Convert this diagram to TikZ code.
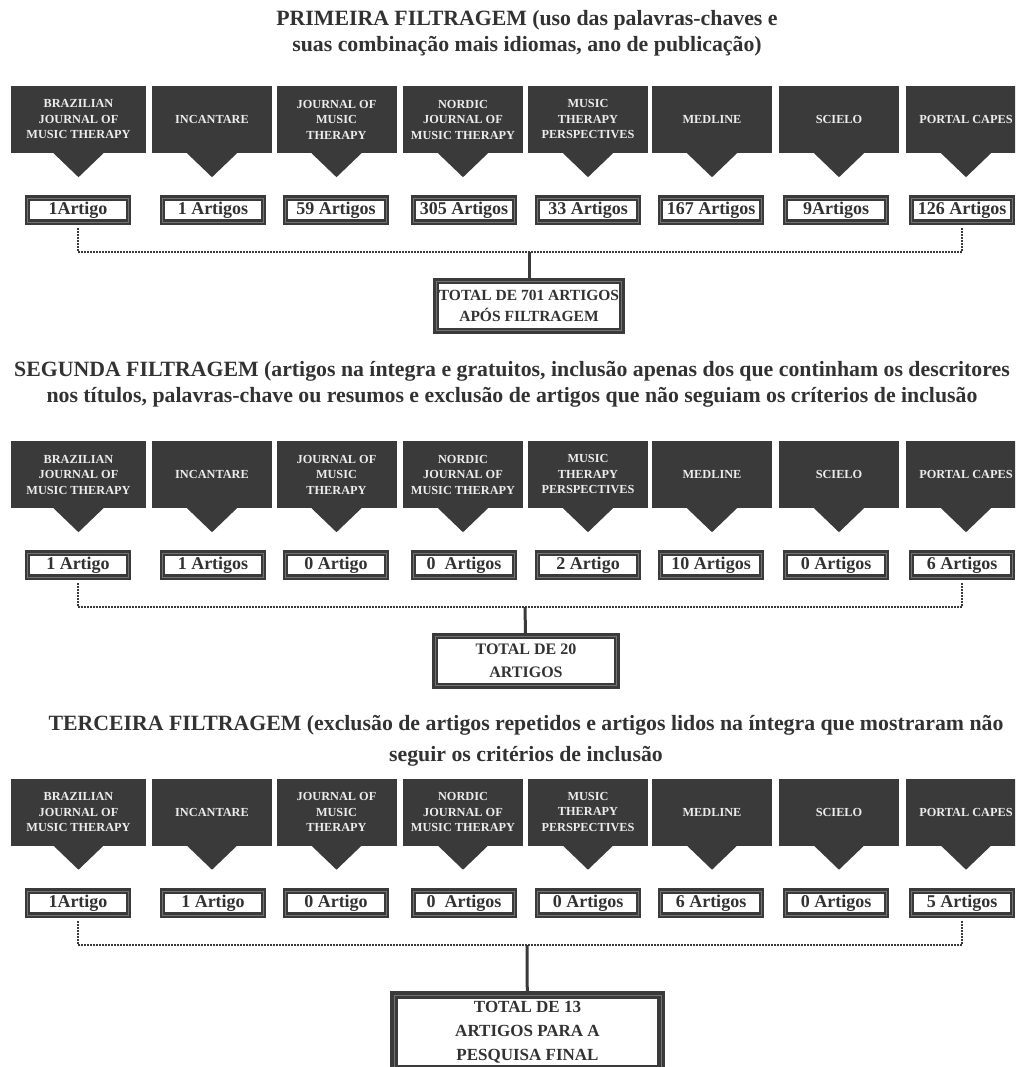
\documentclass[tikz,border=0pt]{standalone}
\usepackage{fontspec}
\setmainfont{Liberation Serif}
\usepackage{tikz}
\usetikzlibrary{positioning}
\definecolor{fluxdark}{RGB}{58, 58, 58}
\definecolor{fluxtext}{RGB}{50, 50, 50}
\definecolor{fluxlight}{RGB}{236, 236, 236}

\begin{document}
\begin{tikzpicture}[
    x=1pt, y=-1pt,
    base/.style={rectangle, fill=fluxdark, text=fluxlight, minimum width=120pt, minimum height=67pt, inner sep=2pt, align=center, font=\fontsize{12.3}{15.5}\selectfont\bfseries},
    count/.style={rectangle, draw=fluxdark, line width=2.4pt, double=white!45!black, double distance=0.8pt, fill=white, minimum width=101pt, minimum height=24pt, inner sep=0pt, text=fluxtext, font=\fontsize{18}{20}\selectfont\bfseries},
    total/.style={rectangle, draw=fluxdark, line width=2.8pt, double=white!45!black, double distance=0.8pt, fill=white, inner sep=0pt, align=center, text=fluxtext},
    title/.style={text=fluxtext, align=center, font=\fontsize{21.8}{26}\selectfont\bfseries},
    dots/.style={fluxdark, line width=1.4pt, dash pattern=on 1.4pt off 1.6pt},
    link/.style={fluxdark, line width=3pt}
]
\useasboundingbox (0,0) rectangle (1015,1067);
\clip (0,0) rectangle (1015,1067);

% Primeira filtragem
\node[title] (fa) at (527, 33) {PRIMEIRA FILTRAGEM (uso das palavras-chaves e\\suas combinação mais idiomas, ano de publicação)};
\node[base, minimum width=135pt] (ja1) at (78.5, 119.5) {BRAZILIAN\\JOURNAL OF\\MUSIC THERAPY};
\node[base] (ja2) at (212, 119.5) {INCANTARE};
\node[base] (ja3) at (336.5, 119.5) {JOURNAL OF\\MUSIC\\THERAPY};
\node[base] (ja4) at (463, 119.5) {NORDIC\\JOURNAL OF\\MUSIC THERAPY};
\node[base] (ja5) at (588, 119.5) {MUSIC\\THERAPY\\PERSPECTIVES};
\node[base] (ja6) at (712, 119.5) {MEDLINE};
\node[base] (ja7) at (839, 119.5) {SCIELO};
\node[base] (ja8) at (966, 119.5) {PORTAL CAPES};
\node[count] (na1) at (78, 210) {1Artigo};
\node[count] (na2) at (213, 210) {1 Artigos};
\node[count] (na3) at (336, 210) {59 Artigos};
\node[count] (na4) at (464, 210) {305 Artigos};
\node[count] (na5) at (588, 210) {33 Artigos};
\node[count] (na6) at (711, 210) {167 Artigos};
\node[count] (na7) at (836, 210) {9Artigos};
\node[count] (na8) at (962, 210) {126 Artigos};
\coordinate (ka) at (529, 252);
\node[total, font=\fontsize{15.5}{21}\selectfont\bfseries, minimum width=185.6pt, minimum height=49.6pt] (ta) at (529, 306) {TOTAL DE 701 ARTIGOS\\APÓS FILTRAGEM};
\draw[dots] ([yshift=-5pt]na1.south) |- (ka) -| ([yshift=-5pt]na8.south);
\draw[link] (ka) -- (ta);

% Segunda filtragem
\node[title] (fb) at (512, 384.5) {SEGUNDA FILTRAGEM (artigos na íntegra e gratuitos, inclusão apenas dos que continham os descritores\\nos títulos, palavras-chave ou resumos e exclusão de artigos que não seguiam os críterios de inclusão};
\node[base, minimum width=135pt] (jb1) at (78.5, 474.5) {BRAZILIAN\\JOURNAL OF\\MUSIC THERAPY};
\node[base] (jb2) at (212, 474.5) {INCANTARE};
\node[base] (jb3) at (336.5, 474.5) {JOURNAL OF\\MUSIC\\THERAPY};
\node[base] (jb4) at (463, 474.5) {NORDIC\\JOURNAL OF\\MUSIC THERAPY};
\node[base] (jb5) at (588, 474.5) {MUSIC\\THERAPY\\PERSPECTIVES};
\node[base] (jb6) at (712, 474.5) {MEDLINE};
\node[base] (jb7) at (839, 474.5) {SCIELO};
\node[base] (jb8) at (966, 474.5) {PORTAL CAPES};
\node[count] (nb1) at (78, 565) {1 Artigo};
\node[count] (nb2) at (213, 565) {1 Artigos};
\node[count] (nb3) at (336, 565) {0 Artigo};
\node[count] (nb4) at (464, 565) {0\ \ Artigos};
\node[count] (nb5) at (588, 565) {2 Artigo};
\node[count] (nb6) at (711, 565) {10 Artigos};
\node[count] (nb7) at (836, 565) {0 Artigos};
\node[count] (nb8) at (962, 565) {6 Artigos};
\coordinate (kb) at (525, 607);
\node[total, font=\fontsize{16}{23}\selectfont\bfseries, minimum width=181.6pt, minimum height=49.6pt] (tb) at (526, 661) {TOTAL DE 20\\ARTIGOS};
\draw[dots] ([yshift=-5pt]nb1.south) |- (kb) -| ([yshift=-5pt]nb8.south);
\draw[link] (kb) -- (tb);

% Terceira filtragem
\node[title, font=\fontsize{21.8}{31}\selectfont\bfseries] (fc) at (526, 741) {TERCEIRA FILTRAGEM (exclusão de artigos repetidos e artigos lidos na íntegra que mostraram não\\seguir os critérios de inclusão};
\node[base, minimum width=135pt] (jc1) at (78.5, 812) {BRAZILIAN\\JOURNAL OF\\MUSIC THERAPY};
\node[base] (jc2) at (212, 812) {INCANTARE};
\node[base] (jc3) at (336.5, 812) {JOURNAL OF\\MUSIC\\THERAPY};
\node[base] (jc4) at (463, 812) {NORDIC\\JOURNAL OF\\MUSIC THERAPY};
\node[base] (jc5) at (588, 812) {MUSIC\\THERAPY\\PERSPECTIVES};
\node[base] (jc6) at (712, 812) {MEDLINE};
\node[base] (jc7) at (839, 812) {SCIELO};
\node[base] (jc8) at (966, 812) {PORTAL CAPES};
\node[count] (nc1) at (78, 903) {1Artigo};
\node[count] (nc2) at (213, 903) {1 Artigo};
\node[count] (nc3) at (336, 903) {0 Artigo};
\node[count] (nc4) at (464, 903) {0\ \ Artigos};
\node[count] (nc5) at (588, 903) {0 Artigos};
\node[count] (nc6) at (711, 903) {6 Artigos};
\node[count] (nc7) at (836, 903) {0 Artigos};
\node[count] (nc8) at (962, 903) {5 Artigos};
\coordinate (kc) at (527, 945);
\node[total, font=\fontsize{17}{24}\selectfont\bfseries, line width=3.4pt, minimum width=267pt, minimum height=74pt] (tc) at (527.5, 1032) {TOTAL DE 13\\ARTIGOS PARA A\\PESQUISA FINAL};
\draw[dots] ([yshift=-5pt]nc1.south) |- (kc) -| ([yshift=-5pt]nc8.south);
\draw[link] (kc) -- (tc);

% Pointers under the journal boxes
\foreach \r in {ja, jb, jc}
  \foreach \i in {1,...,8}
    \fill[fluxdark] ([xshift=-25pt]\r\i.south) -- ([xshift=25pt]\r\i.south) -- ([yshift=-24pt]\r\i.south) -- cycle;

\end{tikzpicture}
\end{document}
